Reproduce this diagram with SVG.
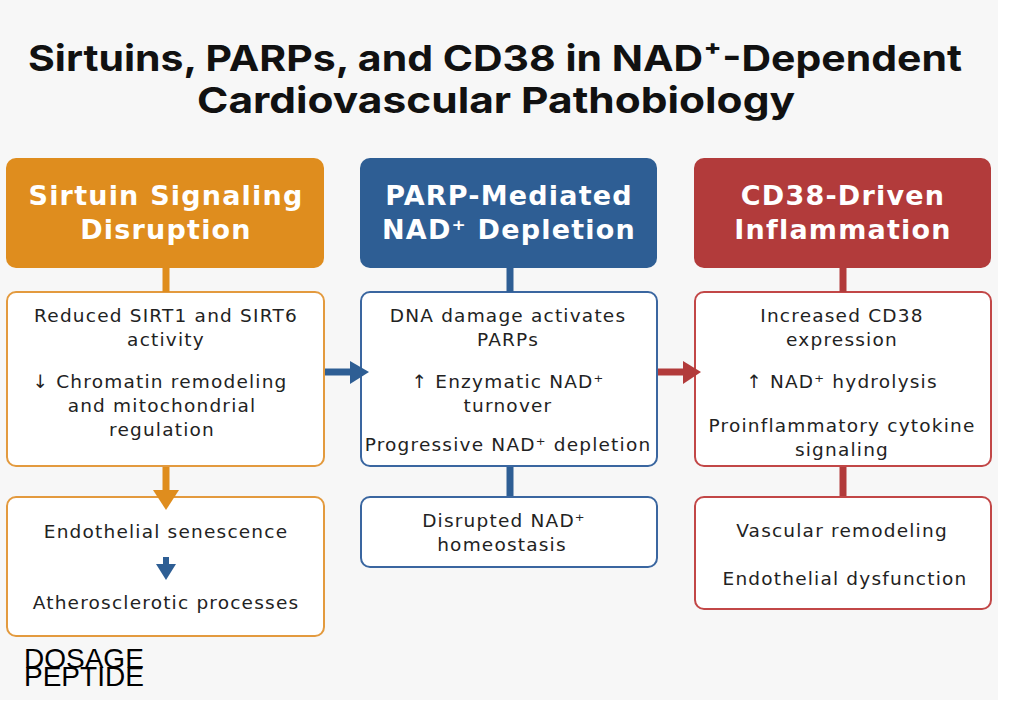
<svg xmlns="http://www.w3.org/2000/svg" width="1024" height="703" viewBox="0 0 1024 703">
<defs>
<style>
.title{font-family:Inter,"Liberation Sans",sans-serif;font-weight:700;font-size:36px;fill:#111;text-anchor:middle}
.head{font-family:"DejaVu Sans","Liberation Sans",sans-serif;font-weight:700;font-size:27px;fill:#fff;text-anchor:middle;letter-spacing:1.2px}
.body{font-family:"DejaVu Sans","Liberation Sans",sans-serif;font-size:18.5px;fill:#222;text-anchor:middle;letter-spacing:1.2px}
.wm{font-family:"Liberation Sans",sans-serif;font-size:28px;fill:#000}
.box{fill:#fff;stroke-width:2}
.o{stroke:#E39A3E}.b{stroke:#3A66A0}.r{stroke:#C24747}
</style>
</defs>
<rect x="0" y="0" width="1024" height="703" fill="#fff"/>
<rect x="0" y="0" width="998" height="700" fill="#f7f7f7"/>
<g id="title">
<text class="title" x="495" y="71" textLength="934" lengthAdjust="spacingAndGlyphs">Sirtuins, PARPs, and CD38 in NAD⁺-Dependent</text>
<text class="title" x="496" y="113" textLength="598" lengthAdjust="spacingAndGlyphs">Cardiovascular Pathobiology</text>
</g>
<g id="sirtuin-head">
<rect x="6" y="158" width="318" height="110" rx="10" fill="#DF8D1E"/>
<text class="head" x="166" y="205">Sirtuin Signaling</text>
<text class="head" x="166" y="239">Disruption</text>
</g>
<g id="parp-head">
<rect x="360" y="158" width="297" height="110" rx="10" fill="#2E5E94"/>
<text class="head" x="509" y="205">PARP-Mediated</text>
<text class="head" x="509" y="239">NAD⁺ Depletion</text>
</g>
<g id="cd38-head">
<rect x="694" y="158" width="297" height="110" rx="10" fill="#B23B3B"/>
<text class="head" x="843" y="205">CD38-Driven</text>
<text class="head" x="843" y="239">Inflammation</text>
</g>
<g id="sirtuin-effects">
<rect class="box o" x="7" y="292" width="317" height="174" rx="9"/>
<text class="body" x="166" y="322">Reduced SIRT1 and SIRT6</text>
<text class="body" x="166" y="346">activity</text>
<text class="body" x="160" y="388">↓ Chromatin remodeling</text>
<text class="body" x="162" y="412">and mitochondrial</text>
<text class="body" x="162" y="436">regulation</text>
</g>
<g id="parp-effects">
<rect class="box b" x="361" y="292" width="296" height="174" rx="9"/>
<text class="body" x="508" y="322">DNA damage activates</text>
<text class="body" x="508" y="346">PARPs</text>
<text class="body" x="508" y="388">↑ Enzymatic NAD⁺</text>
<text class="body" x="508" y="412">turnover</text>
<text class="body" x="508" y="451">Progressive NAD⁺ depletion</text>
</g>
<g id="cd38-effects">
<rect class="box r" x="695" y="292" width="296" height="174" rx="9"/>
<text class="body" x="842" y="322">Increased CD38</text>
<text class="body" x="842" y="346">expression</text>
<text class="body" x="842" y="388">↑ NAD⁺ hydrolysis</text>
<text class="body" x="842" y="432">Proinflammatory cytokine</text>
<text class="body" x="842" y="456">signaling</text>
</g>
<g id="sirtuin-outcomes">
<rect class="box o" x="7" y="497" width="317" height="139" rx="9"/>
<text class="body" x="166" y="538">Endothelial senescence</text>
<text class="body" x="166" y="609">Atherosclerotic processes</text>
</g>
<g id="parp-outcomes">
<rect class="box b" x="361" y="497" width="296" height="70" rx="9"/>
<text class="body" x="504" y="527">Disrupted NAD⁺</text>
<text class="body" x="502" y="551">homeostasis</text>
</g>
<g id="cd38-outcomes">
<rect class="box r" x="695" y="497" width="296" height="112" rx="9"/>
<text class="body" x="842" y="537">Vascular remodeling</text>
<text class="body" x="845" y="585">Endothelial dysfunction</text>
</g>
<g id="connectors">
<line x1="166" y1="268" x2="166" y2="292" stroke="#DF8D1E" stroke-width="7"/>
<line x1="510" y1="268" x2="510" y2="292" stroke="#2E5E94" stroke-width="7"/>
<line x1="843" y1="268" x2="843" y2="292" stroke="#B23B3B" stroke-width="7"/>
<line x1="166" y1="467" x2="166" y2="492" stroke="#DF8D1E" stroke-width="7"/>
<polygon points="153,490 179,490 166,510" fill="#DF8D1E"/>
<line x1="510" y1="467" x2="510" y2="496" stroke="#2E5E94" stroke-width="7"/>
<line x1="843" y1="467" x2="843" y2="496" stroke="#B23B3B" stroke-width="7"/>
<line x1="325" y1="372" x2="352" y2="372" stroke="#2E5E94" stroke-width="7"/>
<polygon points="350,361 350,384 369,372" fill="#2E5E94"/>
<line x1="658" y1="372" x2="685" y2="372" stroke="#B23B3B" stroke-width="7"/>
<polygon points="683,361 683,384 701,372" fill="#B23B3B"/>
<line x1="166" y1="557" x2="166" y2="566" stroke="#2E5E94" stroke-width="6"/>
<polygon points="156,564 176,564 166,580" fill="#2E5E94"/>
</g>
<g id="watermark">
<text class="wm" x="24" y="668">DOSAGE</text>
<text class="wm" x="24" y="686">PEPTIDE</text>
</g>
</svg>
